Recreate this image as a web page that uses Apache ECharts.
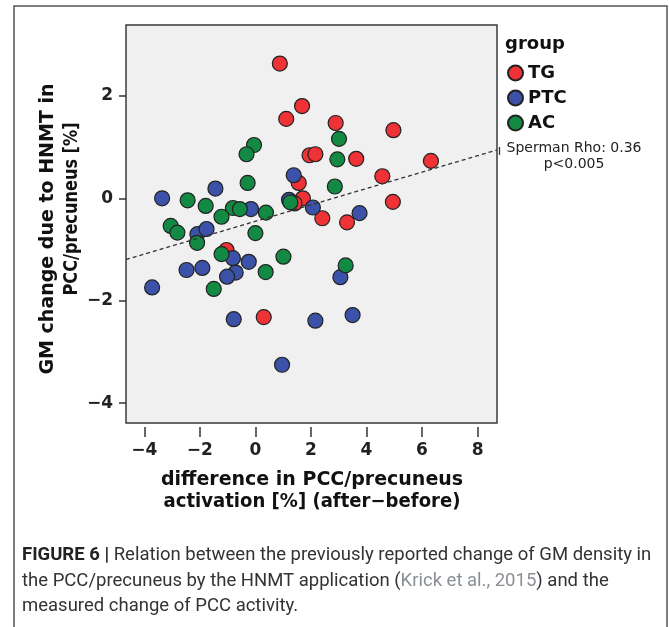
<!DOCTYPE html>
<html>
<head>
<meta charset="utf-8">
<script src="https://cdn.jsdelivr.net/npm/echarts@6/dist/echarts.min.js"></script>
<style>html,body{margin:0;padding:0;background:#fff}#c{width:669px;height:627px}</style>
</head>
<body>
<div id="c"></div>
<script>
const groups = ['TG', 'PTC', 'AC'];
const xTicks = [-4, -2, 0, 2, 4, 6, 8];
const yTicks = [-4, -2, 0, 2];
const tgPoints = [[0.88,2.63],[1.68,1.80],[1.11,1.55],[2.89,1.47],[4.97,1.33],[1.95,0.84],[2.16,0.86],[3.63,0.77],[6.32,0.73],[4.57,0.43],[1.56,0.30],[1.71,0.00],[1.41,-0.10],[4.95,-0.07],[2.41,-0.39],[3.30,-0.47],[-1.04,-1.01],[0.30,-2.32]];
const ptcPoints = [[1.38,0.45],[-1.44,0.19],[-3.36,0.00],[-0.16,-0.21],[1.21,-0.03],[2.07,-0.18],[3.75,-0.29],[-2.09,-0.70],[-1.76,-0.60],[-0.81,-1.17],[-0.24,-1.24],[-2.48,-1.40],[-1.91,-1.36],[-0.71,-1.45],[-1.02,-1.53],[-3.72,-1.74],[-0.78,-2.36],[2.16,-2.39],[0.96,-3.25],[3.06,-1.54],[3.50,-2.28]];
const acPoints = [[-0.05,1.04],[-0.32,0.86],[-0.28,0.30],[3.01,1.16],[2.95,0.76],[2.86,0.23],[-2.44,-0.04],[-1.79,-0.15],[-0.81,-0.19],[-0.56,-0.21],[0.38,-0.28],[-1.22,-0.36],[1.26,-0.08],[-3.05,-0.54],[-2.81,-0.67],[-2.10,-0.87],[0.00,-0.68],[-1.22,-1.09],[1.01,-1.14],[0.37,-1.44],[-1.50,-1.77],[3.25,-1.31]];
const fitLine = [[-4.66,-1.195],[8.70,0.943]];
const fitLabel = ['Sperman Rho: 0.36', 'p<0.005'];
const xTitle = ['difference in PCC/precuneus', 'activation [%] (after\u2212before)'];
const yTitle = ['GM change due to HNMT in', 'PCC/precuneus [%]'];
const legendTitle = 'group';
const caption = ['Relation between the previously reported change of GM density in', 'the PCC/precuneus by the HNMT application (', 'Krick et al., 2015', ') and the', 'measured change of PCC activity.'];

const colors = {TG: '#ee3236', PTC: '#3c52a8', AC: '#128a43'};
const groupData = {TG: tgPoints, PTC: ptcPoints, AC: acPoints};
const bold = 'DejaVu Sans';
const fmt = v => (v < 0 ? '\u2212' : '') + Math.abs(v);

const chart = echarts.init(document.getElementById('c'), null, {renderer: 'canvas'});
const scatterSeries = groups.map(g => ({
  name: g, type: 'scatter', data: groupData[g], symbol: 'circle', symbolSize: 15,
  itemStyle: {color: colors[g], borderColor: '#222', borderWidth: 1.2, opacity: 1},
  emphasis: {disabled: true}, z: 3
}));
chart.setOption({
  animation: false,
  backgroundColor: '#fff',
  grid: {left: 126, top: 25, width: 371, height: 398, show: true, backgroundColor: '#f0f0f0', borderColor: '#3a3a3a', borderWidth: 1.5},
  xAxis: {
    type: 'value', min: -4.66, max: 8.70, offset: 4, position: 'bottom',
    axisLine: {show: false, onZero: false}, splitLine: {show: false},
    axisTick: {show: true, length: 10, customValues: xTicks, lineStyle: {color: '#333', width: 1.5}},
    axisLabel: {customValues: xTicks, formatter: fmt, margin: 15, fontSize: 17, fontWeight: 'bold', fontFamily: bold, color: '#222'}
  },
  yAxis: {
    type: 'value', min: -4.387, max: 3.383, position: 'left',
    axisLine: {show: false, onZero: false}, splitLine: {show: false},
    axisTick: {show: true, length: 7, customValues: yTicks, lineStyle: {color: '#333', width: 1.5}},
    axisLabel: {customValues: yTicks, formatter: fmt, margin: 13, fontSize: 17, fontWeight: 'bold', fontFamily: bold, color: '#222'}
  },
  legend: {
    data: groups, orient: 'vertical', left: 507, top: 64, padding: 0, itemWidth: 15, itemHeight: 15, itemGap: 7,
    icon: 'circle', textStyle: {fontSize: 18, fontWeight: 'bold', fontFamily: bold, color: '#111'}, selectedMode: false
  },
  series: [
    ...scatterSeries,
    {
      type: 'line', data: fitLine, symbol: 'none', z: 4, silent: true, clip: false,
      lineStyle: {color: '#333', width: 1.3, type: [4, 3]},
      markPoint: {symbol: 'rect', symbolSize: [1.3, 8], symbolOffset: [2.5, 1], itemStyle: {color: '#333'}, label: {show: false},
        data: [{coord: fitLine[1]}], silent: true, z: 6},
      endLabel: {
        show: true, distance: 8, offset: [0, 6],
        formatter: '{a|' + fitLabel[0] + '}\n{a|' + fitLabel[1] + '}',
        rich: {a: {width: 138, align: 'center', fontSize: 14, lineHeight: 16, fontFamily: 'DejaVu Sans', color: '#222'}}
      }
    }
  ],
  graphic: [
    {type: 'rect', shape: {x: 14, y: 6, width: 653, height: 660}, style: {fill: 'none', stroke: '#555', lineWidth: 1.5}, silent: true},
    {type: 'text', x: 312, y: 480, style: {text: xTitle[0], font: 'bold 19px "DejaVu Sans"', fill: '#111', textAlign: 'center', textVerticalAlign: 'middle'}},
    {type: 'text', x: 312, y: 502, scaleX: 0.95, style: {text: xTitle[1], font: 'bold 19px "DejaVu Sans"', fill: '#111', textAlign: 'center', textVerticalAlign: 'middle'}},
    {type: 'text', x: 48, y: 229, rotation: Math.PI / 2, style: {text: yTitle[0], font: 'bold 19px "DejaVu Sans"', fill: '#111', textAlign: 'center', textVerticalAlign: 'middle'}},
    {type: 'text', x: 72, y: 209, rotation: Math.PI / 2, scaleX: 0.85, style: {text: yTitle[1], font: 'bold 19px "DejaVu Sans"', fill: '#111', textAlign: 'center', textVerticalAlign: 'middle'}},
    {type: 'text', x: 505, y: 44, style: {text: legendTitle, font: 'bold 18px "DejaVu Sans"', fill: '#111', textAlign: 'left', textVerticalAlign: 'middle'}},
    {type: 'text', x: 22, y: 555, style: {text: '{b|FIGURE 6 |} ' + caption[0], font: '18.5px Roboto', fill: '#333', textVerticalAlign: 'middle',
      rich: {b: {fontWeight: 'bold', fontSize: 18.5, fontFamily: 'Roboto', fill: '#222'}}}},
    {type: 'text', x: 22, y: 581, style: {text: caption[1] + '{g|' + caption[2] + '}' + caption[3], font: '18.5px Roboto', fill: '#333', textVerticalAlign: 'middle',
      rich: {g: {fontSize: 18.5, fontFamily: 'Roboto', fill: '#8a8f96'}}}},
    {type: 'text', x: 22, y: 606, style: {text: caption[4], font: '18.5px Roboto', fill: '#333', textVerticalAlign: 'middle'}}
  ]
});
</script>
</body>
</html>
